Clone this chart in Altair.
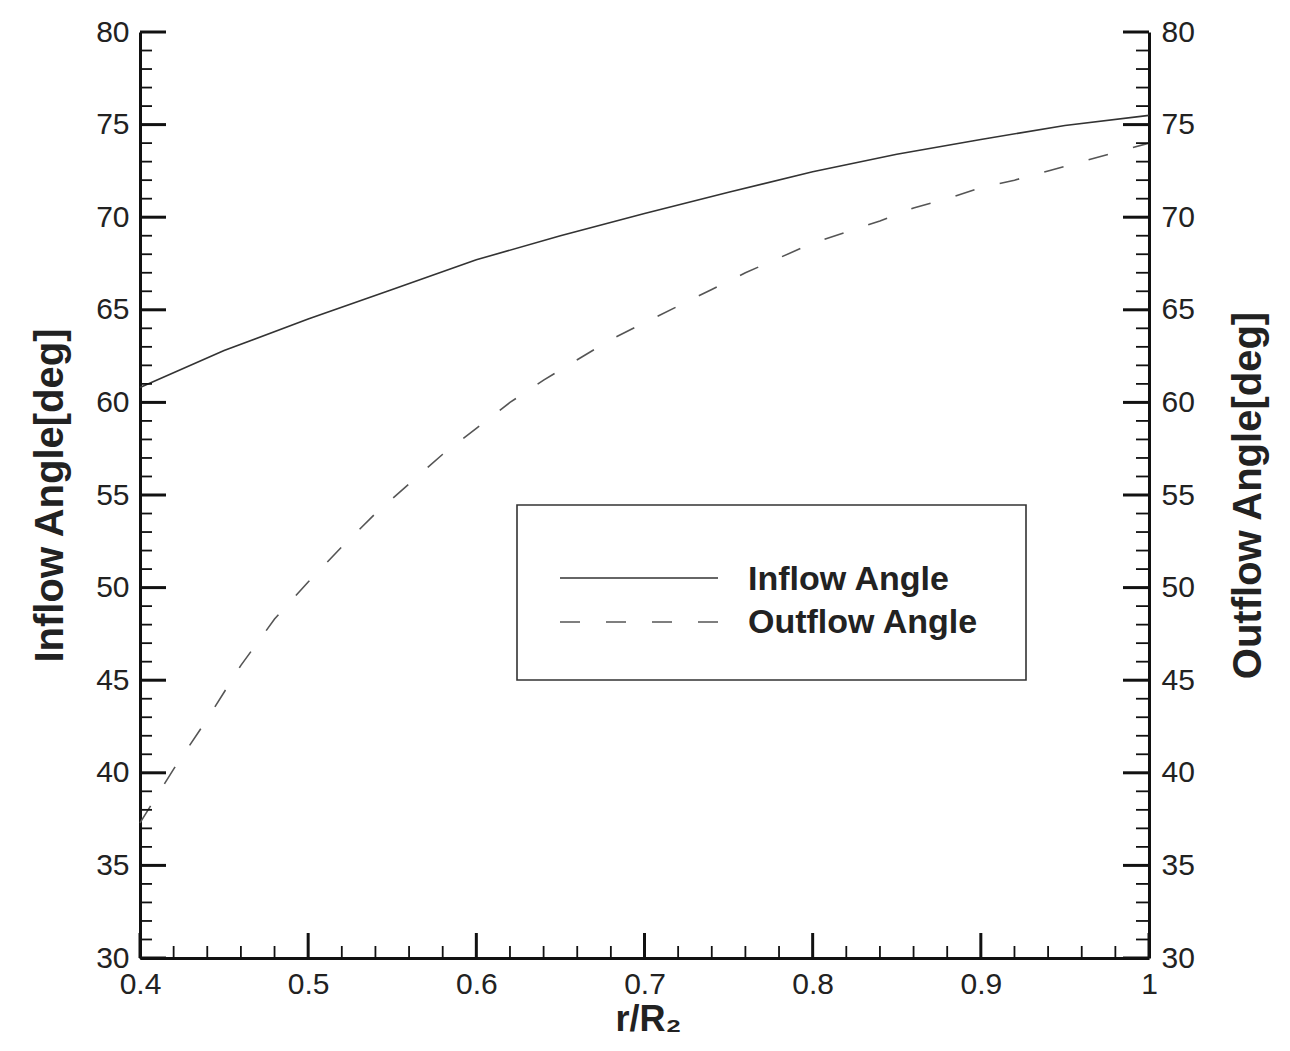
import altair as alt
import pandas as pd

# ---------------- data ----------------
r_inflow = [0.40, 0.45, 0.50, 0.55, 0.60, 0.65, 0.70, 0.75, 0.80, 0.85, 0.90, 0.95, 1.00]
inflow_angle = [60.8, 62.8, 64.5, 66.1, 67.7, 69.0, 70.2, 71.35, 72.45, 73.4, 74.2, 74.95, 75.5]

r_outflow = [0.40, 0.42, 0.44, 0.46, 0.48, 0.50, 0.52, 0.54, 0.56, 0.58, 0.60,
             0.62, 0.64, 0.66, 0.68, 0.70, 0.72, 0.74, 0.76, 0.78, 0.80,
             0.82, 0.84, 0.86, 0.88, 0.90, 0.92, 0.94, 0.96, 0.98, 1.00]
outflow_angle = [37.3, 40.2, 42.9, 45.8, 48.3, 50.3, 52.2, 54.0, 55.6, 57.2, 58.6,
                 60.0, 61.2, 62.3, 63.4, 64.3, 65.2, 66.1, 67.0, 67.8, 68.6,
                 69.2, 69.8, 70.5, 71.0, 71.6, 72.0, 72.5, 73.0, 73.5, 74.0]

x_major = [0.4, 0.5, 0.6, 0.7, 0.8, 0.9, 1.0]
x_minor = [0.42, 0.44, 0.46, 0.48, 0.52, 0.54, 0.56, 0.58, 0.62, 0.64, 0.66, 0.68,
           0.72, 0.74, 0.76, 0.78, 0.82, 0.84, 0.86, 0.88, 0.92, 0.94, 0.96, 0.98]
y_major = [30, 35, 40, 45, 50, 55, 60, 65, 70, 75, 80]
y_minor = [v for v in range(30, 81) if v % 5 != 0]

legend_labels = ["Inflow Angle", "Outflow Angle"]
x_title = "r/R\u2082"
y_left_title = "Inflow Angle[deg]"
y_right_title = "Outflow Angle[deg]"

# ---------------- styling ----------------
W, H = 1009, 926
FONT = "Liberation Sans"
INK = "#111111"
LABEL = 30
TITLE = 40

xs = alt.Scale(domain=[0.4, 1.0], nice=False, zero=False)
ys = alt.Scale(domain=[30, 80], nice=False, zero=False)

df_in = pd.DataFrame({"r": r_inflow, "a": inflow_angle})
df_out = pd.DataFrame({"r": r_outflow, "a": outflow_angle})

x_axis = alt.Axis(orient="bottom", values=x_major, format="~g", ticks=False, tickSize=0,
                  domainWidth=3, domainColor=INK, grid=False,
                  labelFont=FONT, labelFontSize=LABEL, labelColor="#222",
                  labelPadding=11, labelFlush=False, labelOverlap=False,
                  title=x_title, titleFont=FONT, titleFontSize=36,
                  titleFontWeight="bold", titleColor="#222",
                  titleX=508, titleY=61, titleAlign="center", titleBaseline="middle")

yl_axis = alt.Axis(orient="left", values=y_major, format="d", ticks=False, tickSize=0,
                   domainWidth=3, domainColor=INK, grid=False,
                   labelFont=FONT, labelFontSize=LABEL, labelColor="#222",
                   labelPadding=11, labelFlush=False, labelOverlap=False,
                   title=y_left_title, titleFont=FONT, titleFontSize=TITLE,
                   titleFontWeight="bold", titleColor="#222", titleAngle=270,
                   titleX=-90, titleY=H / 2, titleAlign="center", titleBaseline="middle")

yr_axis = alt.Axis(orient="right", values=y_major, format="d", ticks=False, tickSize=0,
                   domainWidth=3, domainColor=INK, grid=False,
                   labelFont=FONT, labelFontSize=LABEL, labelColor="#222",
                   labelPadding=12, labelFlush=False, labelOverlap=False,
                   title=y_right_title, titleFont=FONT, titleFontSize=TITLE,
                   titleFontWeight="bold", titleColor="#222", titleAngle=270,
                   titleX=99, titleY=H / 2, titleAlign="center", titleBaseline="middle")

inflow_line = alt.Chart(df_in).mark_line(color="#333333", strokeWidth=1.6).encode(
    x=alt.X("r:Q", scale=xs, axis=x_axis),
    y=alt.Y("a:Q", scale=ys, axis=yl_axis),
)

outflow_line = alt.Chart(df_out).mark_line(color="#555555", strokeWidth=1.6,
                                           strokeDash=[20, 26]).encode(
    x=alt.X("r:Q", scale=xs, axis=x_axis),
    y=alt.Y("a:Q", scale=ys, axis=yr_axis),
)

# inward ticks
def x_ticks(vals, length, width):
    return alt.Chart(pd.DataFrame({"r": vals})).mark_rule(color=INK, strokeWidth=width).encode(
        x=alt.X("r:Q", scale=xs, axis=x_axis),
        y=alt.value(H), y2=alt.value(H - length),
    )

def y_ticks(vals, x0, x1, width):
    return alt.Chart(pd.DataFrame({"v": vals})).mark_rule(color=INK, strokeWidth=width).encode(
        y=alt.Y("v:Q", scale=ys, axis=None),
        x=alt.value(x0), x2=alt.value(x1),
    )

ticks = [
    x_ticks(x_major, 25, 3), x_ticks(x_minor, 12, 1.8),
    y_ticks(y_major, 0, 26, 3), y_ticks(y_minor, 0, 12, 1.8),
    y_ticks(y_major, W - 26, W, 3), y_ticks(y_minor, W - 13, W, 1.8),
]

# legend box
one = pd.DataFrame({"k": [0]})
legend_box = alt.Chart(one).mark_rect(fill="white", stroke="#333333", strokeWidth=1.6).encode(
    x=alt.value(377), x2=alt.value(886), y=alt.value(473), y2=alt.value(648)
)
leg_line1 = alt.Chart(one).mark_rule(color="#333333", strokeWidth=1.6).encode(
    x=alt.value(420), x2=alt.value(578), y=alt.value(546)
)
leg_line2 = alt.Chart(one).mark_rule(color="#555555", strokeWidth=1.6, strokeDash=[20, 26]).encode(
    x=alt.value(420), x2=alt.value(578), y=alt.value(590)
)
leg_text1 = alt.Chart(one).mark_text(align="left", baseline="middle", font=FONT,
                                     fontSize=34, fontWeight="bold", color="#222").encode(
    x=alt.value(608), y=alt.value(548), text=alt.value(legend_labels[0])
)
leg_text2 = alt.Chart(one).mark_text(align="left", baseline="middle", font=FONT,
                                     fontSize=34, fontWeight="bold", color="#222").encode(
    x=alt.value(608), y=alt.value(591), text=alt.value(legend_labels[1])
)

chart = alt.layer(
    inflow_line, outflow_line, *ticks,
    legend_box, leg_line1, leg_line2, leg_text1, leg_text2,
).resolve_scale(y="independent").properties(
    width=W, height=H,
    autosize=alt.AutoSizeParams(type="none"),
    padding={"left": 132, "top": 24, "right": 125, "bottom": 90},
    background="white",
).configure_view(stroke=None)

chart.save("out.html", embed_options={"renderer": "svg", "actions": False})
